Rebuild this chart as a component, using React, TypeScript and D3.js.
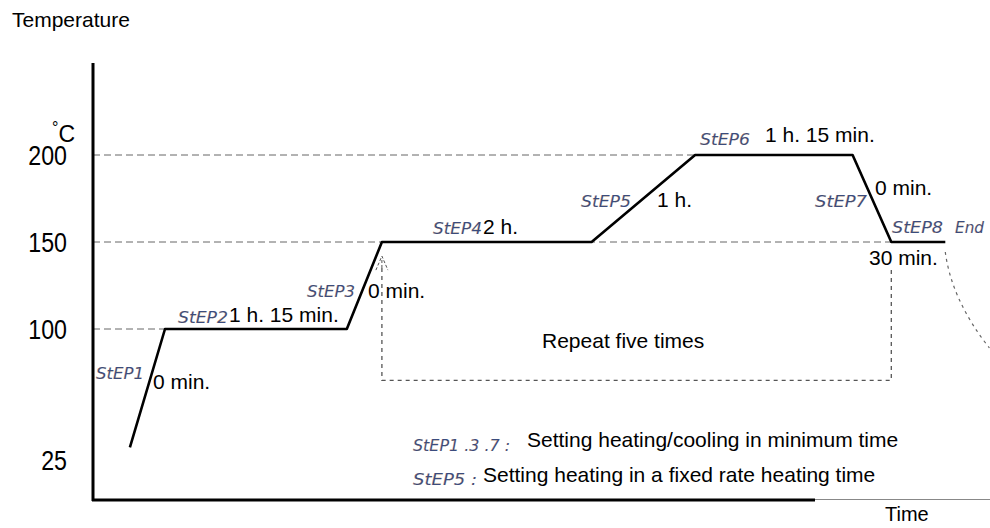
import React from "react";
import * as d3 from "d3";

const profileTime = [4.1, 8.0, 28.2, 32.1, 55.4, 66.9, 84.4, 88.7, 94.7];
const profileTemp = [32, 100, 100, 150, 150, 200, 200, 150, 150];
const yTicks = [200, 150, 100, 25];
const gridEnds = [66.9, 88.7, 8.0]; // dashed guide ends for 200,150,100
const gridTemps = [200, 150, 100];
const repeatStart = 32.1;
const repeatEnd = 88.7;
const repeatBottom = 70.5;
const repeatTopL = 135;
const repeatTopR = 134;

const W = 990;
const H = 528;

const x = d3.scaleLinear().domain([0, 100]).range([93, 993]);
const y = d3.scaleLinear().domain([25, 200]).range([459.5, 155]);

const segFont = "'DejaVu Sans', sans-serif";
const segColor = "#3a4c7e";
const txtFont = "'Liberation Sans', Arial, sans-serif";

const Seg = ({ x0, y0, t, w }: { x0: number; y0: number; t: string; w: number }) => (
  <text x={x0} y={y0} fontFamily={segFont} fontStyle="italic" fontSize={15} textLength={w} lengthAdjust="spacingAndGlyphs"
    fill={segColor} stroke="#c88a40" strokeWidth={0.15}>
    {t}
  </text>
);

const T = ({ x0, y0, t, size = 21, anchor = "start" }: { x0: number; y0: number; t: string; size?: number; anchor?: string }) => (
  <text x={x0} y={y0} fontFamily={txtFont} fontSize={size} fill="#000" textAnchor={anchor as any}>
    {t}
  </text>
);

export default function App() {
  const line = d3
    .line<number>()
    .x((_, i) => x(profileTime[i]))
    .y((d) => y(d));
  const profile = line(profileTemp) || "";

  const xl = x(repeatStart);
  const xr = x(repeatEnd);
  const yb = y(repeatBottom);

  return (
    <svg width={W} height={H} style={{ position: "absolute", left: 0, top: 0, background: "#fff" }}>
      <rect width={W} height={H} fill="#fff" />
      {/* Title */}
      <T x0={12} y0={27} t="Temperature" size={21} />
      {/* Y tick labels */}
      {yTicks.map((v) => (
        <text key={v} x={0} y={0} fontFamily={txtFont} fontSize={27} textAnchor="end"
          transform={`translate(67,${y(v) + 10}) scale(0.86,1)`} fill="#000">
          {v}
        </text>
      ))}
      <text x={52} y={142} fontFamily={txtFont} fill="#000">
        <tspan fontSize={16} dy={-9}>°</tspan>
        <tspan fontSize={23} dx={0} dy={9}>C</tspan>
      </text>

      {/* Dashed guides */}
      {gridTemps.map((v, i) => (
        <line key={v} x1={x(0)} x2={x(gridEnds[i])} y1={y(v)} y2={y(v)} stroke="#666" strokeWidth={1} strokeDasharray="7,4" />
      ))}

      {/* Repeat box (dotted) */}
      <path d={`M${xl},${y(repeatTopL)}V${yb}H${xr}V${y(repeatTopR)}`} fill="none" stroke="#555" strokeWidth={1.3} strokeDasharray="4,4" />
      {/* arrow head */}
      <path d={`M${xl - 6},${y(repeatTopL) + 2}L${xl},${y(150) + 14}L${xl + 6},${y(repeatTopL) + 2}`} fill="none" stroke="#555" strokeWidth={1} strokeDasharray="3,2" />
      <line x1={xl} x2={xl} y1={y(150) + 18} y2={y(repeatTopL)} stroke="#555" strokeWidth={1} strokeDasharray="3,2" />

      {/* Cooling tail (dotted curve) */}
      <path d={`M${x(94.7)},${y(150) + 10} Q${x(95.4)},${y(150) + 58} ${x(99.6)},${y(150) + 106}`} fill="none" stroke="#666" strokeWidth={1.2} strokeDasharray="3,4" />

      {/* Profile */}
      <path d={profile} fill="none" stroke="#000" strokeWidth={2.6} strokeLinejoin="round" />

      {/* Axes */}
      <line x1={93} x2={93} y1={63} y2={501} stroke="#000" strokeWidth={3} />
      <line x1={92} x2={815} y1={500} y2={500} stroke="#000" strokeWidth={3} />
      <line x1={815} x2={990} y1={499.5} y2={499.5} stroke="#888" strokeWidth={1} />
      <T x0={885} y0={521} t="Time" size={20} />

      {/* Step labels */}
      <Seg x0={96} y0={379} t="StEP1" w={48} />
      <T x0={153} y0={389} t="0 min." />
      <Seg x0={178} y0={323} t="StEP2" w={50} />
      <T x0={229} y0={322} t="1 h. 15 min." />
      <Seg x0={307} y0={297} t="StEP3" w={48} />
      <T x0={368} y0={298} t="0 min." />
      <Seg x0={433} y0={234} t="StEP4" w={49} />
      <T x0={483} y0={234} t="2 h." />
      <Seg x0={581} y0={207} t="StEP5" w={50} />
      <T x0={657} y0={207} t="1 h." />
      <Seg x0={700} y0={145} t="StEP6" w={50} />
      <T x0={765} y0={142} t="1 h. 15 min." />
      <Seg x0={815} y0={207} t="StEP7" w={52} />
      <T x0={875} y0={195} t="0 min." />
      <Seg x0={892} y0={233} t="StEP8" w={51} />
      <Seg x0={955} y0={233} t="End" w={29} />
      <T x0={869} y0={265} t="30 min." />

      <T x0={542} y0={348} t="Repeat five times" />

      {/* Legend */}
      <Seg x0={413} y0={451} t="StEP1 .3 .7 :" w={97} />
      <T x0={527} y0={447} t="Setting heating/cooling in minimum time" />
      <Seg x0={413} y0={485} t="StEP5 :" w={64} />
      <T x0={483} y0={482} t="Setting heating in a fixed rate heating time" />
    </svg>
  );
}
